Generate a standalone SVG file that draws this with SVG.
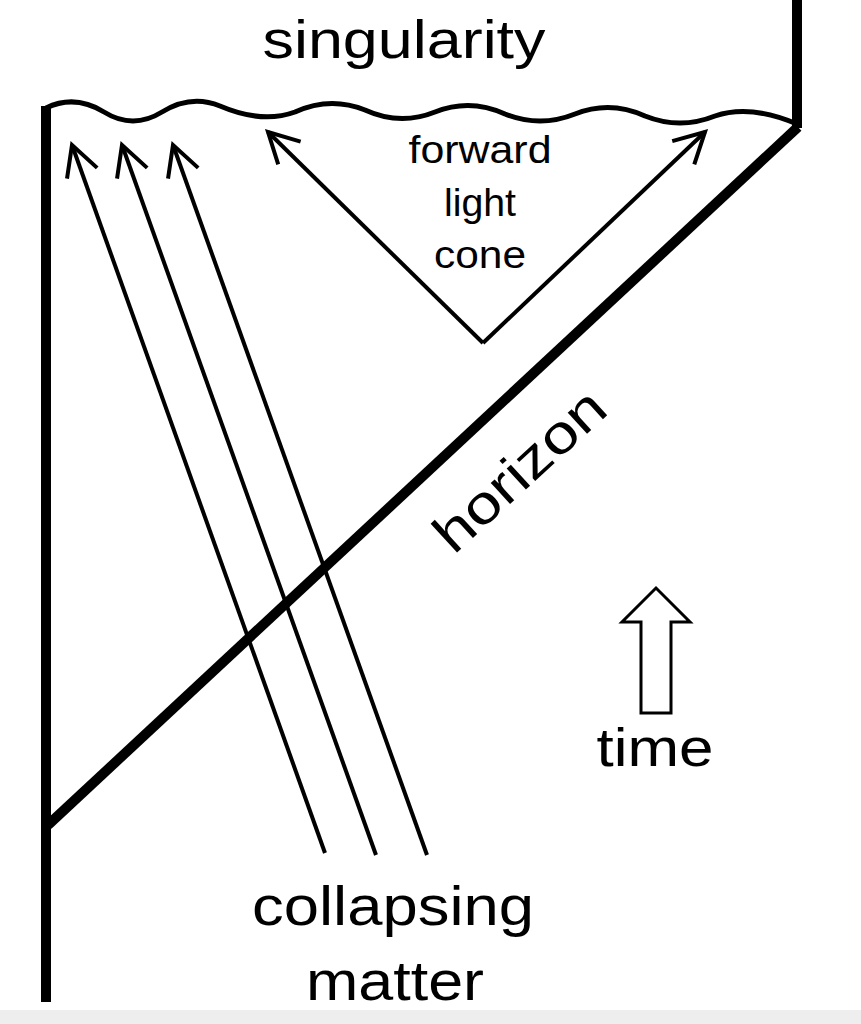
<svg xmlns="http://www.w3.org/2000/svg" width="861" height="1024" viewBox="0 0 861 1024">
<style>
.t{font-family:"Liberation Sans",Arial,sans-serif;fill:#000;text-anchor:middle}
.thick{stroke:#000;stroke-width:10;fill:none}
.ray{stroke:#000;stroke-width:4;fill:none}
</style>
<defs>
<marker id="ah2" markerWidth="40" markerHeight="40" refX="36" refY="20" orient="auto" markerUnits="userSpaceOnUse" viewBox="0 0 40 40">
<path d="M6,4 L36,20 L6,36" fill="none" stroke="#000" stroke-width="4"/>
</marker>
</defs>
<rect width="861" height="1024" fill="#fff"/>
<rect y="1010" width="861" height="14" fill="#eeeeee"/>
<g id="frame">
<line class="thick" x1="46" y1="106" x2="46" y2="1002"/>
<line class="thick" x1="797" y1="0" x2="797" y2="128"/>
<path id="singularity-line" d="M46,108 Q75,94 104,112 Q133,130 162,112 Q191,94 220,106 Q262,124 295,112 Q330,96 365,110 Q400,126 435,112 Q470,98 505,114 Q540,128 575,114 Q610,100 645,116 Q680,130 715,116 Q750,104 797,124" fill="none" stroke="#000" stroke-width="5"/>
<line id="horizon-line" class="thick" x1="48" y1="825" x2="798" y2="127"/>
</g>
<g id="connectors">
<line class="ray" x1="325" y1="853" x2="72" y2="145" marker-end="url(#ah2)"/>
<line class="ray" x1="376" y1="855" x2="122" y2="145" marker-end="url(#ah2)"/>
<line class="ray" x1="427" y1="855" x2="173" y2="145" marker-end="url(#ah2)"/>
<line class="ray" x1="483" y1="343" x2="268" y2="132" marker-end="url(#ah2)"/>
<line class="ray" x1="483" y1="343" x2="705" y2="132" marker-end="url(#ah2)"/>
</g>
<g id="time-arrow">
<path d="M641,713 L641,622 L622,622 L656,588 L690,622 L671,622 L671,713 Z" fill="#fff" stroke="#000" stroke-width="3"/>
</g>
<g id="labels">
<text class="t" x="404" y="58" font-size="54" textLength="283" lengthAdjust="spacingAndGlyphs">singularity</text>
<text class="t" x="480" y="163" font-size="38" textLength="143" lengthAdjust="spacingAndGlyphs">forward</text>
<text class="t" x="480" y="216" font-size="38" textLength="72" lengthAdjust="spacingAndGlyphs">light</text>
<text class="t" x="480" y="268" font-size="38" textLength="92" lengthAdjust="spacingAndGlyphs">cone</text>
<text class="t" font-size="54" transform="translate(532,484) rotate(-42.5)" textLength="212" lengthAdjust="spacingAndGlyphs">horizon</text>
<text class="t" x="655" y="766" font-size="54" textLength="117" lengthAdjust="spacingAndGlyphs">time</text>
<text class="t" x="393" y="925" font-size="56" textLength="282" lengthAdjust="spacingAndGlyphs">collapsing</text>
<text class="t" x="395" y="1000" font-size="56" textLength="178" lengthAdjust="spacingAndGlyphs">matter</text>
</g>
</svg>
